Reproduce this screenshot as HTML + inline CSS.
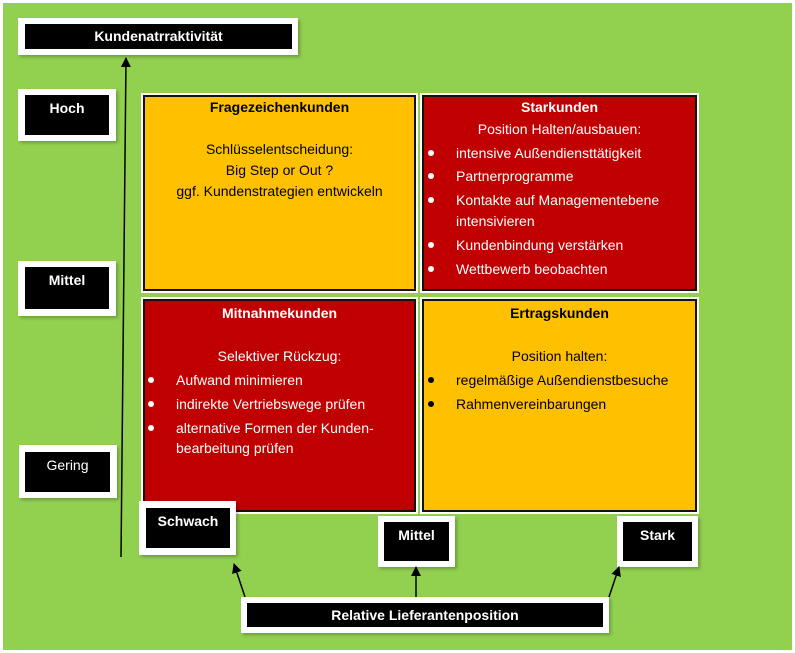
<!DOCTYPE html>
<html><head><meta charset="utf-8"><style>
body{margin:0;width:795px;height:653px;background:#fff;position:relative;overflow:hidden;font-family:"Liberation Sans",sans-serif;}
.bg{position:absolute;left:3px;top:3px;width:789px;height:647px;background:#92D050;}
.fr{position:absolute;background:#fff;box-shadow:2px 2px 3px rgba(0,0,0,0.25);}
.bk{position:absolute;background:#000;color:#fff;font-weight:bold;font-size:14px;text-align:center;}
.q{position:absolute;border:2px solid #111;box-shadow:0 0 0 2px #fff;}
.t{position:absolute;font-size:14px;white-space:nowrap;line-height:16px;}
.d{position:absolute;width:6px;height:6px;border-radius:50%;}
.c{text-align:center;}
.b{font-weight:bold;}
.w{color:#fff;}
</style></head><body>
<div class="bg"></div>

<div class="fr" style="left:18px;top:18px;width:280px;height:37px"></div>
<div class="bk" style="left:25px;top:24px;width:267px;height:25px;line-height:25px">Kundenatrraktivität</div>

<div class="fr" style="left:18px;top:89px;width:98px;height:52px"></div>
<div class="bk" style="left:25px;top:95px;width:84px;height:40px;line-height:26px">Hoch</div>
<div class="fr" style="left:18px;top:261px;width:98px;height:55px"></div>
<div class="bk" style="left:25px;top:267px;width:84px;height:42px;line-height:26px">Mittel</div>
<div class="fr" style="left:19px;top:445px;width:98px;height:53px"></div>
<div class="bk" style="left:25px;top:452px;width:85px;height:40px;line-height:26px;font-weight:normal">Gering</div>

<div class="q" style="left:143px;top:95px;width:269px;height:192px;background:#FFC000"></div>
<div class="q" style="left:422px;top:95px;width:271px;height:192px;background:#C00000"></div>
<div class="q" style="left:143px;top:299px;width:269px;height:209px;background:#C00000"></div>
<div class="q" style="left:422px;top:299px;width:271px;height:209px;background:#FFC000"></div>

<div class="t c b" style="left:143px;width:273px;top:99px">Fragezeichenkunden</div>
<div class="t c" style="left:143px;width:273px;top:141px">Schlüsselentscheidung:</div>
<div class="t c" style="left:143px;width:273px;top:162px">Big Step or Out ?</div>
<div class="t c" style="left:143px;width:273px;top:183px">ggf. Kundenstrategien entwickeln</div>

<div class="t c b w" style="left:422px;width:275px;top:99px">Starkunden</div>
<div class="t c w" style="left:422px;width:275px;top:121px">Position Halten/ausbauen:</div>
<div class="d" style="background:#fff;left:428px;top:150px"></div><div class="t w" style="left:456px;top:145px">intensive Außendiensttätigkeit</div>
<div class="d" style="background:#fff;left:428px;top:173px"></div><div class="t w" style="left:456px;top:168px">Partnerprogramme</div>
<div class="d" style="background:#fff;left:428px;top:197px"></div><div class="t w" style="left:456px;top:192px">Kontakte auf Managementebene</div>
<div class="t w" style="left:456px;top:213px">intensivieren</div>
<div class="d" style="background:#fff;left:428px;top:242px"></div><div class="t w" style="left:456px;top:237px">Kundenbindung verstärken</div>
<div class="d" style="background:#fff;left:428px;top:266px"></div><div class="t w" style="left:456px;top:261px">Wettbewerb beobachten</div>

<div class="t c b w" style="left:143px;width:273px;top:305px">Mitnahmekunden</div>
<div class="t c w" style="left:143px;width:273px;top:348px">Selektiver Rückzug:</div>
<div class="d" style="background:#fff;left:148px;top:377px"></div><div class="t w" style="left:176px;top:372px">Aufwand minimieren</div>
<div class="d" style="background:#fff;left:148px;top:401px"></div><div class="t w" style="left:176px;top:396px">indirekte Vertriebswege prüfen</div>
<div class="d" style="background:#fff;left:148px;top:425px"></div><div class="t w" style="left:176px;top:420px">alternative Formen der Kunden-</div>
<div class="t w" style="left:176px;top:440px">bearbeitung prüfen</div>

<div class="t c b" style="left:422px;width:275px;top:305px">Ertragskunden</div>
<div class="t c" style="left:422px;width:275px;top:348px">Position halten:</div>
<div class="d" style="background:#000;left:428px;top:377px"></div><div class="t" style="left:456px;top:372px">regelmäßige Außendienstbesuche</div>
<div class="d" style="background:#000;left:428px;top:401px"></div><div class="t" style="left:456px;top:396px">Rahmenvereinbarungen</div>

<div class="fr" style="left:139px;top:501px;width:97px;height:54px"></div>
<div class="bk" style="left:146px;top:508px;width:84px;height:40px;line-height:26px">Schwach</div>
<div class="fr" style="left:378px;top:516px;width:77px;height:51px"></div>
<div class="bk" style="left:384px;top:522px;width:65px;height:39px;line-height:26px">Mittel</div>
<div class="fr" style="left:617px;top:516px;width:81px;height:51px"></div>
<div class="bk" style="left:623px;top:522px;width:69px;height:39px;line-height:26px">Stark</div>

<div class="fr" style="left:241px;top:597px;width:368px;height:36px"></div>
<div class="bk" style="left:247px;top:603px;width:356px;height:24px;line-height:24px">Relative Lieferantenposition</div>

<svg style="position:absolute;left:0;top:0" width="795" height="653">
<defs><marker id="a" markerWidth="10" markerHeight="10" refX="9" refY="5" orient="auto" markerUnits="userSpaceOnUse"><path d="M0,0 L10,5 L0,10 z" fill="#000"/></marker></defs>
<line x1="121" y1="557" x2="126" y2="58" stroke="#000" stroke-width="1.5" marker-end="url(#a)"/>
<line x1="245" y1="597" x2="234" y2="564" stroke="#000" stroke-width="1.5" marker-end="url(#a)"/>
<line x1="416" y1="597" x2="416" y2="567" stroke="#000" stroke-width="1.5" marker-end="url(#a)"/>
<line x1="609" y1="597" x2="619" y2="567" stroke="#000" stroke-width="1.5" marker-end="url(#a)"/>
</svg>
</body></html>
